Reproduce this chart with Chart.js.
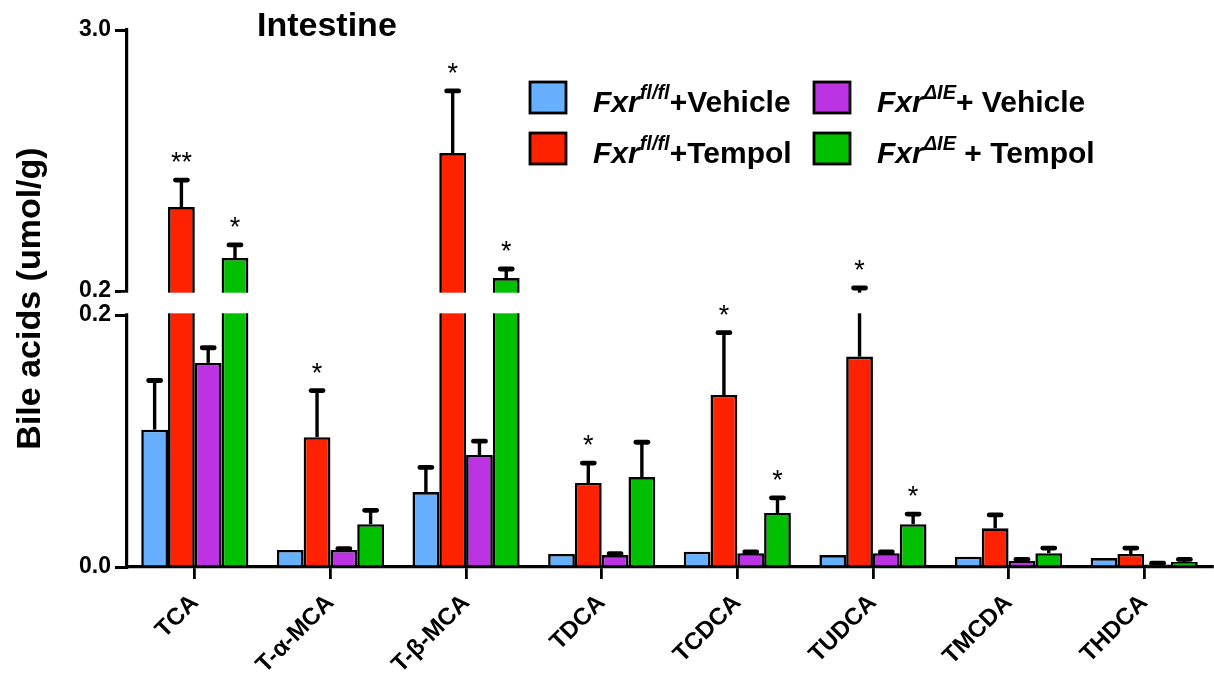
<!DOCTYPE html>
<html>
<head>
<meta charset="utf-8">
<script src="https://cdn.jsdelivr.net/npm/chart.js@4.4.0/dist/chart.umd.min.js"></script>
<style>
  html, body { margin: 0; padding: 0; background: #fff; }
  #wrap { width: 1214px; height: 685px; position: relative; }
</style>
</head>
<body>
<div id="wrap"><canvas id="c"></canvas></div>
<script>
// Bile acid species (x categories)
const categories = ['TCA', 'T-α-MCA', 'T-β-MCA', 'TDCA', 'TCDCA', 'TUDCA', 'TMCDA', 'THDCA'];

// Group means (umol/g) and upper SEM
const flVehicle      = [0.109, 0.0135, 0.0595, 0.0103, 0.0121, 0.0095, 0.0082, 0.0071];
const flVehicleErr   = [0.039, 0, 0.0195, 0, 0, 0, 0, 0];
const flTempol       = [1.10, 0.103, 1.68, 0.0667, 0.1365, 0.167, 0.0307, 0.0103];
const flTempolErr    = [0.29, 0.037, 0.666, 0.0158, 0.0495, 0.065, 0.0106, 0.0047];
const ieVehicle      = [0.162, 0.0135, 0.0889, 0.0095, 0.011, 0.011, 0.005, 0.002];
const ieVehicleErr   = [0.012, 0.001, 0.011, 0.001, 0.001, 0.001, 0.001, 0.001];
const ieTempol       = [0.554, 0.034, 0.339, 0.0714, 0.0429, 0.034, 0.011, 0.004];
const ieTempolErr    = [0.14, 0.011, 0.097, 0.0276, 0.0119, 0.008, 0.004, 0.002];

// Significance marks
const flTempolStars  = ['**', '*', '*', '*', '*', '*', '', ''];
const ieTempolStars  = ['*', '', '*', '', '*', '*', '', ''];

// Broken y axis: lower segment 0–0.2, upper segment 0.2–3.0
const axisBreak   = 0.2;
const axisMax     = 3.0;
const lowerTicks  = [0.0, 0.2];
const upperTicks  = [0.2, 3.0];

const SPLIT = { gap: 24, upperShare: 261 / 513 };

class SplitLinearScale extends Chart.LinearScale {
  mapValue(v, upper) {
    const span = this.bottom - this.top - SPLIT.gap;
    const upperH = span * SPLIT.upperShare;
    const lowerH = span - upperH;
    if (!upper && v <= axisBreak) {
      return this.bottom - (v - this.min) / (axisBreak - this.min) * lowerH;
    }
    return this.top + (this.max - v) / (this.max - axisBreak) * upperH;
  }
  getPixelForValue(v) { return this.mapValue(v, false); }
  getPixelForTick(i) {
    const t = this.ticks[i];
    return this.mapValue(t.value, !!t.upper);
  }
  getValueForPixel(p) {
    const span = this.bottom - this.top - SPLIT.gap;
    const upperH = span * SPLIT.upperShare;
    const lowerH = span - upperH;
    if (p >= this.bottom - lowerH) {
      return this.min + (this.bottom - p) / lowerH * (axisBreak - this.min);
    }
    return this.max - (p - this.top) / upperH * (this.max - axisBreak);
  }
}
SplitLinearScale.id = 'splitLinear';
SplitLinearScale.defaults = Chart.LinearScale.defaults;
Chart.register(SplitLinearScale);

const BASE_FONT = '"Liberation Sans", Arial, sans-serif';

// Error bars, the white break band, then significance stars
const errorBarPlugin = {
  id: 'errorBars',
  afterDatasetsDraw(chart) {
    const ctx = chart.ctx;
    const ys = chart.scales.y;
    const starMarks = [];
    chart.data.datasets.forEach((ds, di) => {
      const meta = chart.getDatasetMeta(di);
      meta.data.forEach((bar, i) => {
        const e = ds.errors[i];
        let capY = bar.y;
        if (e) {
          capY = ys.getPixelForValue(ds.data[i] + e);
          ctx.save();
          ctx.strokeStyle = '#000';
          ctx.lineWidth = 3.4;
          ctx.beginPath();
          ctx.moveTo(bar.x, bar.y);
          ctx.lineTo(bar.x, capY);
          ctx.stroke();
          ctx.lineWidth = 4.8;
          ctx.lineCap = 'round';
          ctx.beginPath();
          ctx.moveTo(bar.x - 6, capY);
          ctx.lineTo(bar.x + 6, capY);
          ctx.stroke();
          ctx.restore();
        }
        const s = ds.stars ? ds.stars[i] : '';
        if (s) starMarks.push({ s, x: bar.x, y: capY - 9 });
      });
    });
    // white band cutting the axis and bars at the break
    const yUp = ys.mapValue(axisBreak, true);
    const yLo = ys.mapValue(axisBreak, false);
    ctx.save();
    ctx.fillStyle = '#fff';
    ctx.fillRect(ys.right - 6, yUp + 1.7, chart.width, (yLo - yUp) - 3.4);
    ctx.fillStyle = '#000';
    ctx.font = '27px ' + BASE_FONT;
    ctx.textAlign = 'center';
    ctx.textBaseline = 'alphabetic';
    starMarks.forEach(m => ctx.fillText(m.s, m.x, m.y));
    ctx.restore();
  }
};

// Rich-text run: [{t, italic, sup}]
function drawRuns(ctx, x, y, runs, size) {
  runs.forEach(r => {
    const fs = r.sup ? Math.round(size * 0.66) : size;
    ctx.font = (r.italic ? 'italic ' : '') + 'bold ' + fs + 'px ' + BASE_FONT;
    const dy = r.sup ? -size * 0.42 : 0;
    ctx.fillText(r.t, x, y + dy);
    x += ctx.measureText(r.t).width;
  });
}

const legendItems = [
  { color: '#66B0FF', x: 530, y: 82,  runs: [{ t: 'Fxr', italic: true }, { t: 'fl/fl', italic: true, sup: true }, { t: '+Vehicle' }] },
  { color: '#FF2200', x: 530, y: 133, runs: [{ t: 'Fxr', italic: true }, { t: 'fl/fl', italic: true, sup: true }, { t: '+Tempol' }] },
  { color: '#BB33E3', x: 814, y: 82,  runs: [{ t: 'Fxr', italic: true }, { t: 'ΔIE', italic: true, sup: true }, { t: '+ Vehicle' }] },
  { color: '#00C000', x: 814, y: 133, runs: [{ t: 'Fxr', italic: true }, { t: 'ΔIE', italic: true, sup: true }, { t: ' + Tempol' }] }
];

const decorPlugin = {
  id: 'decor',
  afterDraw(chart) {
    const ctx = chart.ctx;
    ctx.save();
    ctx.fillStyle = '#000';
    ctx.font = 'bold 34px ' + BASE_FONT;
    ctx.textAlign = 'left';
    ctx.textBaseline = 'alphabetic';
    ctx.fillText('Intestine', 257, 36);

    legendItems.forEach(it => {
      ctx.fillStyle = it.color;
      ctx.fillRect(it.x, it.y, 36, 31);
      ctx.strokeStyle = '#000';
      ctx.lineWidth = 2.8;
      ctx.strokeRect(it.x, it.y, 36, 31);
      ctx.fillStyle = '#000';
      ctx.textAlign = 'left';
      drawRuns(ctx, it.x + 63, it.y + 30, it.runs, 30);
    });
    ctx.restore();
  }
};

const barStyle = { borderColor: '#000', borderWidth: 2.6, borderSkipped: 'start' };

new Chart(document.getElementById('c'), {
  type: 'bar',
  data: {
    labels: categories,
    datasets: [
      { label: 'Fxr fl/fl + Vehicle', data: flVehicle, errors: flVehicleErr, backgroundColor: '#66B0FF', ...barStyle },
      { label: 'Fxr fl/fl + Tempol',  data: flTempol,  errors: flTempolErr,  stars: flTempolStars, backgroundColor: '#FF2200', ...barStyle },
      { label: 'Fxr ΔIE + Vehicle',   data: ieVehicle, errors: ieVehicleErr, backgroundColor: '#BB33E3', ...barStyle },
      { label: 'Fxr ΔIE + Tempol',    data: ieTempol,  errors: ieTempolErr,  stars: ieTempolStars, backgroundColor: '#00C000', ...barStyle }
    ]
  },
  options: {
    responsive: true,
    maintainAspectRatio: false,
    animation: false,
    devicePixelRatio: 1,
    layout: { padding: { top: 30, right: 2, left: 0, bottom: 0 } },
    datasets: { bar: { categoryPercentage: 0.79, barPercentage: 1.0 } },
    plugins: {
      legend: { display: false },
      title: { display: false },
      tooltip: { enabled: false }
    },
    scales: {
      x: {
        z: 1,
        offset: true,
        grid: { display: true, drawOnChartArea: false, offset: false, drawTicks: true, tickLength: 12, tickColor: '#000', lineWidth: 2.8 },
        border: { display: true, color: '#000', width: 3.2 },
        ticks: {
          color: '#000',
          font: { family: BASE_FONT, size: 24, weight: 'bold' },
          minRotation: 45, maxRotation: 45, autoSkip: false, padding: 10
        },
        afterFit(s) { s.height = 118; }
      },
      y: {
        type: 'splitLinear',
        min: 0, max: axisMax,
        afterBuildTicks(s) {
          s.ticks = lowerTicks.map(v => ({ value: v }))
            .concat(upperTicks.map(v => ({ value: v, upper: true })));
        },
        grid: { display: true, drawOnChartArea: false, drawTicks: true, tickLength: 12, tickColor: '#000', lineWidth: 3 },
        border: { display: true, color: '#000', width: 3.2 },
        ticks: {
          color: '#000', autoSkip: false, padding: 4,
          font: { family: BASE_FONT, size: 23, weight: 'bold' },
          callback: v => Number(v).toFixed(1)
        },
        title: {
          display: true, text: 'Bile acids (umol/g)', color: '#000',
          font: { family: BASE_FONT, size: 34, weight: 'bold' },
          padding: { top: 10, bottom: 0 }
        },
        afterFit(s) { s.width = 127; }
      }
    }
  },
  plugins: [errorBarPlugin, decorPlugin]
});
</script>
</body>
</html>
